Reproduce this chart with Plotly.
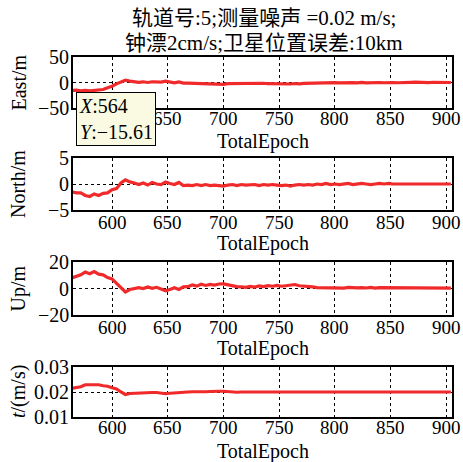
import plotly.graph_objects as go

epochs = list(range(564, 905, 4))

east = [-15.6, -15.0, -16.3, -15.3, -16.4, -15.2, -14.6, -13.8, -10.2, -7.4,
        -2.6, 1.8, 4.6, 2.6, 1.9, 0.2, 1.4, 0.0, 1.5, 0.5,
        0.9, 2.8, 1.2, -0.8, 1.0, -1.3, -1.2, -1.6, -2.1, -1.5,
        -2.5, -1.8, -2.7, -2.9, -3.6, -2.3, -2.2, -1.5, -2.4, -1.8,
        -1.4, -2.5, -1.9, -1.5, -2.4, -2.6, -1.9, -1.7, -2.6, -2.9,
        -2.0, -2.7, -1.8, -1.5, -1.0, -0.9, -1.4, -0.4, -1.0, -0.3,
        -0.8, -0.2, -0.9, -0.3, -0.7, 0.3, -0.6, -0.1, -0.7, 0.0,
        -0.5, 0.4, -0.3, -0.5, 0.2, -0.4, 0.3, 0.6, -0.2, 0.4,
        -0.3, 0.5, 0.0, -0.3, 0.3, 0.0]

north = [-1.5, -1.7, -1.7, -2.2, -2.4, -1.9, -2.2, -1.8, -1.7, -1.1,
         -0.9, 0.2, 0.8, 0.4, 0.2, -0.1, 0.2, -0.2, 0.3, 0.0,
         -0.1, 0.4, 0.1, -0.1, 0.3, -0.3, -0.2, -0.3, -0.1, -0.3,
         -0.1, -0.3, -0.2, -0.3, -0.4, -0.2, -0.1, -0.3, -0.1, -0.2,
         -0.2, -0.1, -0.3, -0.1, -0.2, -0.1, -0.2, -0.3, -0.2, -0.4,
         -0.2, -0.1, -0.2, -0.1, -0.2, 0.0, -0.1, 0.1, -0.1, 0.0,
         -0.1, 0.0, 0.1, -0.1, 0.0, 0.1, 0.0, -0.1, 0.0, 0.1,
         0.0, 0.1, 0.0, 0.0, 0.05, 0.0, 0.0, 0.0, 0.0, 0.0,
         0.0, 0.0, 0.0, 0.0, 0.0, 0.0]

up = [8.0, 9.2, 10.3, 12.4, 11.2, 12.8, 10.8, 10.3, 8.2, 7.2,
      3.8, 0.6, -2.6, -0.8, -0.2, 0.7, 0.0, 1.2, 0.1, 0.9,
      -0.4, -1.7, -0.8, 0.6, -0.7, 1.2, 1.4, 2.7, 1.8, 3.2,
      2.3, 3.1, 2.6, 3.4, 3.5, 2.6, 2.1, 1.4, 1.3, 0.9,
      1.6, 1.1, 1.9, 1.4, 2.1, 1.7, 2.3, 1.7, 2.1, 2.6,
      3.0, 2.1, 2.0, 1.4, 1.3, 0.7, 0.6, 0.8, 0.4, 0.5,
      0.7, 0.3, 0.8, 0.4, 0.5, 0.7, 0.4, 0.8, 0.3, 0.6,
      0.6, 0.4, 0.5, 0.6, 0.3, 0.3, 0.3, 0.3, 0.3, 0.3,
      0.3, 0.3, 0.3, 0.3, 0.3, 0.3]

clk = [0.0215, 0.0219, 0.0221, 0.0229, 0.0229, 0.0228, 0.0229, 0.0225, 0.0223, 0.0217,
       0.0212, 0.0200, 0.0190, 0.0194, 0.0195, 0.0198, 0.0197, 0.0198, 0.0198, 0.0198,
       0.0196, 0.0193, 0.0195, 0.0197, 0.0196, 0.0199, 0.0200, 0.0201, 0.0200, 0.0202,
       0.0201, 0.0202, 0.0201, 0.0203, 0.0203, 0.0201, 0.0199, 0.0199, 0.0200, 0.0200,
       0.0199, 0.0200, 0.0201, 0.0200, 0.0200, 0.0201, 0.0202, 0.0200, 0.0201, 0.0201,
       0.0200, 0.0200, 0.0201, 0.0200, 0.0200, 0.0200, 0.0200, 0.0200, 0.0200, 0.0200,
       0.0200, 0.0200, 0.0200, 0.0200, 0.0200, 0.0200, 0.0200, 0.0200, 0.0200, 0.0200,
       0.0200, 0.0200, 0.0200, 0.0200, 0.0200, 0.0200, 0.0200, 0.0200, 0.0200, 0.0200,
       0.0200, 0.0200, 0.0200, 0.0200, 0.0200, 0.0200]

series = [east, north, up, clk]
y_titles = ["East/m", "North/m", "Up/m", "<i>t</i>/(m/s)"]
y_ranges = [[-50, 50], [-5, 5], [-20, 20], [0.01, 0.03]]
y_ticks = [[-50, 0, 50], [-5, 0, 5], [-20, 0, 20], [0.01, 0.02, 0.03]]
y_ticktext = [["−50", "0", "50"], ["−5", "0", "5"], ["−20", "0", "20"], ["0.01", "0.02", "0.03"]]
x_ticks = [600, 650, 700, 750, 800, 850, 900]
x_title = "TotalEpoch"
tip_x, tip_y = 564, -15.61
title_lines = ["轨道号:5;测量噪声 =0.02 m/s;", "钟漂2cm/s;卫星位置误差:10km"]

W, H = 463, 462
FONT = "Liberation Serif, Times New Roman, Noto Sans CJK SC, serif"
FS = 19

left_px, right_px = 73, 452
rows_px = [(57, 108), (158, 210), (262, 315), (367, 417)]
xtick_px = [118, 222, 327, 427]
xtitle_px = [142, 243, 348, 451]


def txt(text, x, y, xref="paper", yref="paper", xa="center", ya="middle", size=FS, **kw):
    return dict(text=text, x=x, y=y, xref=xref, yref=yref, showarrow=False,
                xanchor=xa, yanchor=ya, font=dict(family=FONT, size=size, color="black"), **kw)


fig = go.Figure()
layout = dict(width=W, height=H, margin=dict(l=0, r=0, t=0, b=0),
              paper_bgcolor="white", plot_bgcolor="white", showlegend=False,
              font=dict(family=FONT, size=FS, color="black"))
annotations = []
for i, (vals, (top, bot)) in enumerate(zip(series, rows_px)):
    n = "" if i == 0 else str(i + 1)
    fig.add_trace(go.Scatter(x=epochs, y=vals, mode="lines",
                             line=dict(color="#f02a2a", width=3.2),
                             xaxis="x" + n, yaxis="y" + n, hoverinfo="skip"))
    axcommon = dict(showline=True, mirror=True, linecolor="black", linewidth=1.6,
                    showgrid=True, gridcolor="black", griddash="dot", gridwidth=1,
                    zeroline=False, ticks="", showticklabels=False)
    layout["xaxis" + n] = dict(domain=[left_px / W, right_px / W], range=[565, 905],
                               tickvals=x_ticks, anchor="y" + n, **axcommon)
    layout["yaxis" + n] = dict(domain=[1 - bot / H, 1 - top / H], range=y_ranges[i],
                               tickvals=y_ticks[i], anchor="x" + n, **axcommon)
    for xv in x_ticks:
        annotations.append(txt(str(xv), xv, 1 - xtick_px[i] / H, xref="x" + n))
    for yv, yt in zip(y_ticks[i], y_ticktext[i]):
        annotations.append(txt(yt, 71 / W, yv, yref="y" + n, xa="right", size=20))
    annotations.append(txt(x_title, (left_px + right_px) / 2 / W, 1 - xtitle_px[i] / H, size=20))
    annotations.append(txt(y_titles[i], 18 / W, 1 - (top + bot) / 2 / H, textangle=-90, size=20))

for t, ypx in zip(title_lines, [18, 43]):
    annotations.append(txt(t, 264 / W, 1 - ypx / H, size=21))

# data tip
fig.add_trace(go.Scatter(x=[tip_x], y=[tip_y], mode="markers", cliponaxis=False,
                         marker=dict(symbol="square", size=8, color="black",
                                     line=dict(color="#f2f2c0", width=1.5)),
                         xaxis="x", yaxis="y", hoverinfo="skip"))
annotations.append(txt("<i>X</i>:%d<br><i>Y</i>:−%.2f" % (tip_x, abs(tip_y)),
                       76 / W, 1 - 92 / H, xa="left", ya="top", align="left", size=20,
                       bgcolor="#fafae3", bordercolor="black", borderwidth=1, borderpad=2))

layout["annotations"] = annotations
fig.update_layout(**layout)
fig.write_html("out.html")
